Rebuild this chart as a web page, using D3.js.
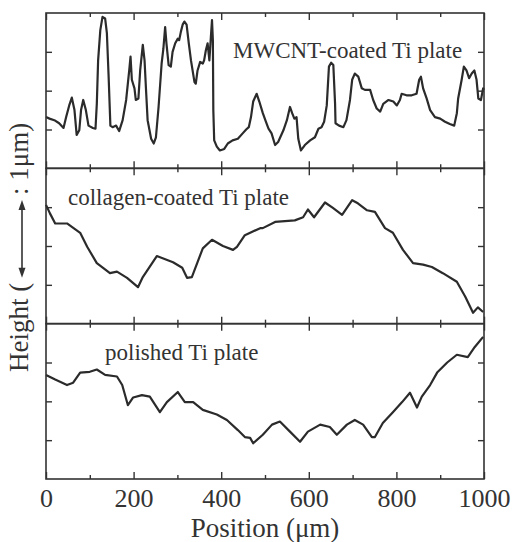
<!DOCTYPE html>
<html><head><meta charset="utf-8">
<script src="https://cdn.jsdelivr.net/npm/d3@7"></script>
<style>
html,body{margin:0;padding:0;background:#fff;}
</style></head>
<body>
<svg id="c" width="512" height="542"></svg>
<script>
// ---- data (Position µm, Height µm above panel baseline) ----
const xTickLabels = [0, 200, 400, 600, 800, 1000];
const xMinorTicks = [100, 300, 500, 700, 900];
const yTicks = [0.5, 1.0, 1.5];
const panelLabels = ["MWCNT-coated Ti plate", "collagen-coated Ti plate", "polished Ti plate"];

const mwcnt = [[0,0.66],[8,0.64],[19,0.62],[30,0.58],[40,0.52],[46,0.66],[53,0.81],[59,0.91],[65,0.75],[70,0.43],[76,0.49],[80,0.75],[85,0.88],[91,0.75],[97,0.55],[107,0.52],[113,0.51],[116,0.83],[119,1.39],[124,1.78],[129,1.95],[135,1.93],[139,1.74],[143,1.18],[147,0.55],[152,0.53],[160,0.55],[167,0.48],[175,0.62],[183,0.88],[190,1.26],[193,1.44],[196,1.14],[202,1.03],[205,0.88],[211,0.90],[215,1.26],[221,1.59],[225,1.39],[228,1.05],[232,0.62],[240,0.38],[246,0.32],[251,0.40],[257,0.79],[264,1.35],[268,1.54],[272,1.82],[275,1.61],[280,1.33],[285,1.31],[289,1.50],[295,1.61],[301,1.67],[304,1.65],[308,1.76],[312,1.85],[316,1.89],[321,1.85],[326,1.61],[331,1.39],[339,1.11],[342,1.09],[346,1.26],[352,1.37],[358,1.35],[361,1.39],[365,1.52],[369,1.61],[373,1.39],[377,1.74],[379,1.91],[381,1.65],[382,0.75],[384,0.36],[390,0.28],[397,0.23],[407,0.25],[415,0.32],[426,0.36],[438,0.38],[449,0.45],[457,0.50],[463,0.53],[468,0.66],[473,0.86],[481,0.96],[487,0.86],[495,0.71],[502,0.60],[508,0.51],[515,0.45],[523,0.30],[530,0.34],[542,0.49],[550,0.62],[557,0.79],[562,0.71],[567,0.64],[572,0.66],[576,0.38],[582,0.23],[591,0.30],[603,0.36],[614,0.40],[622,0.51],[629,0.53],[635,0.60],[641,0.81],[646,1.31],[651,1.36],[656,1.33],[660,0.83],[661,0.58],[669,0.55],[679,0.53],[686,0.62],[694,0.88],[699,1.14],[705,1.22],[713,1.18],[721,1.03],[728,1.01],[740,1.01],[747,0.88],[755,0.77],[763,0.73],[770,0.83],[782,0.88],[793,0.86],[801,0.81],[808,0.88],[812,0.96],[823,0.94],[835,0.94],[846,0.96],[852,1.14],[856,1.18],[861,1.03],[869,0.90],[877,0.75],[888,0.66],[900,0.64],[911,0.60],[922,0.57],[932,0.55],[938,0.71],[941,0.90],[949,1.14],[954,1.31],[960,1.26],[966,1.16],[972,1.22],[978,1.26],[983,1.14],[987,0.90],[993,0.88],[998,1.03],[1000,1.01]];

const collagen = [[0,1.53],[9,1.42],[21,1.29],[48,1.29],[78,1.17],[94,0.99],[116,0.78],[146,0.65],[162,0.67],[185,0.59],[210,0.47],[221,0.60],[253,0.87],[290,0.79],[311,0.72],[322,0.59],[333,0.60],[358,0.97],[379,1.08],[404,1.00],[427,0.95],[436,0.99],[454,1.14],[489,1.23],[495,1.23],[523,1.31],[568,1.33],[587,1.37],[598,1.47],[612,1.37],[637,1.56],[655,1.49],[676,1.40],[699,1.59],[712,1.55],[733,1.46],[751,1.44],[774,1.23],[792,1.17],[815,0.95],[838,0.78],[861,0.76],[881,0.73],[906,0.65],[938,0.54],[957,0.35],[975,0.14],[986,0.21],[998,0.15]];

const polished = [[0,1.34],[21,1.28],[48,1.21],[62,1.24],[78,1.37],[100,1.38],[116,1.41],[135,1.34],[162,1.32],[174,1.21],[187,0.95],[199,1.05],[219,1.08],[237,1.06],[260,0.86],[276,0.99],[301,1.12],[317,0.99],[336,0.99],[358,0.89],[390,0.83],[413,0.76],[438,0.63],[454,0.54],[466,0.53],[473,0.46],[495,0.57],[516,0.70],[534,0.74],[557,0.61],[580,0.48],[598,0.61],[626,0.70],[648,0.67],[664,0.57],[687,0.70],[705,0.76],[724,0.70],[744,0.54],[751,0.54],[769,0.72],[792,0.86],[813,0.99],[831,1.11],[847,0.92],[858,1.06],[877,1.21],[893,1.37],[916,1.50],[938,1.60],[963,1.57],[979,1.70],[998,1.83]];

const series = [mwcnt, collagen, polished];

// ---- layout ----
const FONT = '"Liberation Serif","Times New Roman",serif';
const svg = d3.select("#c");
const L = 46, R = 484, T = 13, B = 479;
const ph = (B - T) / 3;
const x = d3.scaleLinear().domain([0, 1000]).range([L, R]);
const ink = "#333";
const labelPos = [[233, 58], [68, 205], [105, 360]];

series.forEach((data, i) => {
  const top = T + i * ph, bot = top + ph;
  const y = d3.scaleLinear().domain([0, 2]).range([bot, top]);
  const g = svg.append("g");

  const addX = (vals, size) => {
    g.append("g").attr("transform", `translate(0,${bot})`)
      .call(d3.axisTop(x).tickValues(vals).tickSize(size).tickFormat(""));
    g.append("g").attr("transform", `translate(0,${top})`)
      .call(d3.axisBottom(x).tickValues(vals).tickSize(size).tickFormat(""));
  };
  addX(xTickLabels, 7);
  addX(xMinorTicks, 4);
  g.append("g").attr("transform", `translate(${L},0)`)
    .call(d3.axisRight(y).tickValues(yTicks).tickSize(6).tickFormat(""));
  g.append("g").attr("transform", `translate(${R},0)`)
    .call(d3.axisLeft(y).tickValues(yTicks).tickSize(6).tickFormat(""));

  g.selectAll(".domain").remove();
  g.selectAll(".tick line").attr("stroke", ink).attr("stroke-width", 1.4);

  g.append("path").datum(data)
    .attr("fill", "none").attr("stroke", "#2b2b2b").attr("stroke-width", 2.2)
    .attr("stroke-linejoin", "round")
    .attr("d", d3.line().x(d => x(d[0])).y(d => y(d[1])));

  g.append("rect").attr("x", L).attr("y", top).attr("width", R - L).attr("height", ph)
    .attr("fill", "none").attr("stroke", ink).attr("stroke-width", 1.6);

  g.append("text").attr("x", labelPos[i][0]).attr("y", labelPos[i][1])
    .attr("font-family", FONT).attr("fill", ink)
    .attr("font-size", 23).text(panelLabels[i]);
});

// bottom tick labels
const xa = svg.append("g").attr("transform", `translate(0,${B})`)
  .call(d3.axisBottom(x).tickValues(xTickLabels).tickSize(0).tickPadding(9.5).tickFormat(d3.format("d")));
xa.attr("font-family", FONT).attr("font-size", 26);
xa.select(".domain").remove();
xa.selectAll("text").attr("fill", ink);

// x axis title
svg.append("text").attr("x", (L + R) / 2).attr("y", 537).attr("text-anchor", "middle")
  .attr("font-family", FONT).attr("fill", ink)
  .attr("font-size", 27).text("Position (\u03bcm)");

// y axis title with 1 µm arrow
const yMid = d3.scaleLinear().domain([0, 2]).range([T + 2 * ph, T + ph]);
const aTop = 200, aBot = aTop + (yMid(0) - yMid(1));
const yl = svg.append("g").attr("transform", "translate(28,0) rotate(-90)")
  .attr("font-family", FONT).attr("fill", ink).attr("font-size", 27);
yl.append("text").attr("x", -aBot - 5).attr("y", 0).attr("text-anchor", "end").text("Height (");
yl.append("text").attr("x", -aTop + 5).attr("y", 0).attr("text-anchor", "start").text(": 1\u03bcm)");
const ax = 22;
svg.append("line").attr("x1", ax).attr("x2", ax).attr("y1", aTop + 7).attr("y2", aBot - 7)
  .attr("stroke", ink).attr("stroke-width", 1.6);
svg.append("path").attr("d", `M${ax},${aTop} L${ax - 3.5},${aTop + 10} L${ax + 3.5},${aTop + 10} Z`).attr("fill", ink);
svg.append("path").attr("d", `M${ax},${aBot} L${ax - 3.5},${aBot - 10} L${ax + 3.5},${aBot - 10} Z`).attr("fill", ink);
</script>
</body></html>
